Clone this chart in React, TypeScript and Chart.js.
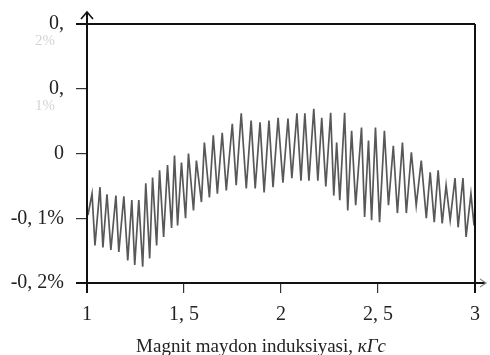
import React, { useEffect, useRef } from "react";
import { Chart, registerables } from "chart.js";

Chart.register(...registerables);

// Magnetic field induction, kG (turning points of the oscillating trace)
const fieldKGs = [
  1.005, 1.026, 1.041, 1.067, 1.082, 1.103, 1.123, 1.149, 1.164, 1.19,
  1.21, 1.231, 1.246, 1.267, 1.287, 1.303, 1.323, 1.338, 1.359, 1.374,
  1.395, 1.415, 1.436, 1.451, 1.467, 1.487, 1.508, 1.523, 1.549, 1.564,
  1.59, 1.605, 1.631, 1.651, 1.672, 1.697, 1.718, 1.749, 1.769, 1.795,
  1.821, 1.846, 1.867, 1.892, 1.913, 1.938, 1.959, 1.985, 2.01, 2.036,
  2.056, 2.082, 2.103, 2.123, 2.144, 2.169, 2.19, 2.21, 2.231, 2.256,
  2.272, 2.287, 2.303, 2.328, 2.344, 2.364, 2.385, 2.415, 2.431, 2.451,
  2.467, 2.487, 2.508, 2.533, 2.554, 2.579, 2.6, 2.626, 2.646, 2.672,
  2.697, 2.723, 2.749, 2.769, 2.79, 2.81, 2.831, 2.851, 2.872, 2.897,
  2.913, 2.938, 2.954, 2.979, 2.995, 3.0,
];

// Relative change, %
const relChangePct = [
  -0.095, -0.062, -0.142, -0.052, -0.145, -0.063, -0.149, -0.065, -0.152, -0.066,
  -0.165, -0.072, -0.172, -0.072, -0.175, -0.046, -0.162, -0.037, -0.142, -0.026,
  -0.129, -0.018, -0.115, -0.003, -0.111, -0.014, -0.1, 0.0, -0.088, -0.011,
  -0.075, 0.017, -0.068, 0.028, -0.062, 0.032, -0.057, 0.046, -0.049, 0.062,
  -0.054, 0.051, -0.054, 0.048, -0.06, 0.051, -0.052, 0.055, -0.045, 0.054,
  -0.038, 0.062, -0.042, 0.062, -0.042, 0.069, -0.042, 0.055, -0.051, 0.063,
  -0.065, 0.017, -0.072, 0.063, -0.088, 0.035, -0.08, 0.04, -0.098, 0.02,
  -0.103, 0.04, -0.106, 0.035, -0.08, 0.012, -0.092, 0.017, -0.092, 0.002,
  -0.08, -0.011, -0.1, -0.029, -0.106, -0.026, -0.108, -0.049, -0.103, -0.038,
  -0.114, -0.038, -0.129, -0.062, -0.111, -0.088,
];

const xTickValues = [1, 1.5, 2, 2.5, 3];
const xTickLabels = ["1", "1, 5", "2", "2, 5", "3"];
const yTickValues = [-0.2, -0.1, 0, 0.1, 0.2];
const yTickLabels = ["-0, 2%", "-0, 1%", "0", "0,", "0,"];
const yTickFaint = ["", "", "", "1%", "2%"];
const xTitleMain = "Magnit maydon induksiyasi, ";
const xTitleUnit = "кГс";

const SERIF = "'Liberation Serif', 'DejaVu Serif', serif";

export default function App() {
  const ref = useRef<HTMLCanvasElement | null>(null);

  useEffect(() => {
    const canvas = ref.current;
    if (!canvas) return;

    const decor = {
      id: "decor",
      afterDraw(chart: any) {
        const { ctx, chartArea } = chart;
        const { left, right, top, bottom } = chartArea;
        const yScale = chart.scales.y;
        ctx.save();
        ctx.strokeStyle = "#111";
        ctx.lineWidth = 2;
        ctx.lineCap = "butt";
        ctx.beginPath();
        ctx.moveTo(left, bottom + 10);
        ctx.lineTo(left, top - 12);
        ctx.moveTo(left - 11, top);
        ctx.lineTo(right, top);
        ctx.moveTo(right, top);
        ctx.lineTo(right, bottom + 10);
        ctx.moveTo(left - 11, bottom);
        ctx.lineTo(right + 10, bottom);
        ctx.stroke();
        ctx.lineWidth = 1.6;
        ctx.beginPath();
        ctx.moveTo(left - 6, top - 5);
        ctx.lineTo(left, top - 12);
        ctx.lineTo(left + 6, top - 5);
        ctx.stroke();
        ctx.strokeStyle = "#888";
        ctx.lineWidth = 1.2;
        ctx.beginPath();
        ctx.moveTo(right + 5, bottom - 4);
        ctx.lineTo(right + 11, bottom);
        ctx.lineTo(right + 5, bottom + 4);
        ctx.stroke();

        // faint second lines of clipped tick labels
        ctx.fillStyle = "#d4d4d4";
        ctx.font = `15px ${SERIF}`;
        ctx.textAlign = "center";
        ctx.textBaseline = "middle";
        yTickValues.forEach((v, i) => {
          if (!yTickFaint[i]) return;
          const py = yScale.getPixelForValue(v);
          ctx.fillText(yTickFaint[i], left - 42, py + 17);
        });

        // x title with italic unit
        ctx.fillStyle = "#222";
        ctx.textBaseline = "alphabetic";
        ctx.textAlign = "left";
        const mainFont = `19px ${SERIF}`;
        const unitFont = `italic 19px ${SERIF}`;
        ctx.font = mainFont;
        const w1 = ctx.measureText(xTitleMain).width;
        ctx.font = unitFont;
        const w2 = ctx.measureText(xTitleUnit).width;
        const cx = 261;
        const x0 = cx - (w1 + w2) / 2;
        const by = 352;
        ctx.font = mainFont;
        ctx.fillText(xTitleMain, x0, by);
        ctx.font = unitFont;
        ctx.fillText(xTitleUnit, x0 + w1, by);
        ctx.restore();
      },
    };

    const chart = new Chart(canvas, {
      type: "scatter",
      data: {
        datasets: [
          {
            data: fieldKGs.map((x, i) => ({ x, y: relChangePct[i] })),
            showLine: true,
            borderColor: "rgba(70,70,70,0.9)",
            borderWidth: 1.7,
            pointRadius: 0,
            tension: 0,
          },
        ],
      },
      options: {
        responsive: false,
        animation: false,
        layout: { padding: { top: 24, right: 13, bottom: 0, left: 0 } },
        plugins: { legend: { display: false }, tooltip: { enabled: false } },
        scales: {
          x: {
            type: "linear",
            min: 1,
            max: 3,
            afterFit: (s: any) => {
              s.height = 72;
            },
            afterBuildTicks: (s: any) => {
              s.ticks = xTickValues.map((v) => ({ value: v }));
            },
            ticks: {
              color: "#222",
              font: { family: SERIF, size: 20 },
              padding: 10,
              maxRotation: 0,
              callback: (v: any) => {
                const i = xTickValues.indexOf(Number(v));
                return i >= 0 ? xTickLabels[i] : "";
              },
            },
            grid: {
              drawOnChartArea: false,
              drawTicks: true,
              tickLength: 10,
              color: "#333",
              lineWidth: 1.2,
            },
            border: { display: false },
          },
          y: {
            type: "linear",
            min: -0.2,
            max: 0.2,
            afterFit: (s: any) => {
              s.width = 87;
            },
            afterBuildTicks: (s: any) => {
              s.ticks = yTickValues.map((v) => ({ value: v }));
            },
            ticks: {
              color: "#222",
              font: { family: SERIF, size: 20 },
              padding: 12,
              callback: (v: any) => {
                const i = yTickValues.findIndex((t) => Math.abs(t - Number(v)) < 1e-9);
                return i >= 0 ? yTickLabels[i] : "";
              },
            },
            grid: {
              drawOnChartArea: false,
              drawTicks: true,
              tickLength: 11,
              color: "#333",
              lineWidth: 1.2,
            },
            border: { display: false },
          },
        },
      },
      plugins: [decor],
    });

    return () => chart.destroy();
  }, []);

  return (
    <div style={{ position: "fixed", left: 0, top: 0, width: 490, height: 355, background: "#fff" }}>
      <canvas ref={ref} width={490} height={355} />
    </div>
  );
}
